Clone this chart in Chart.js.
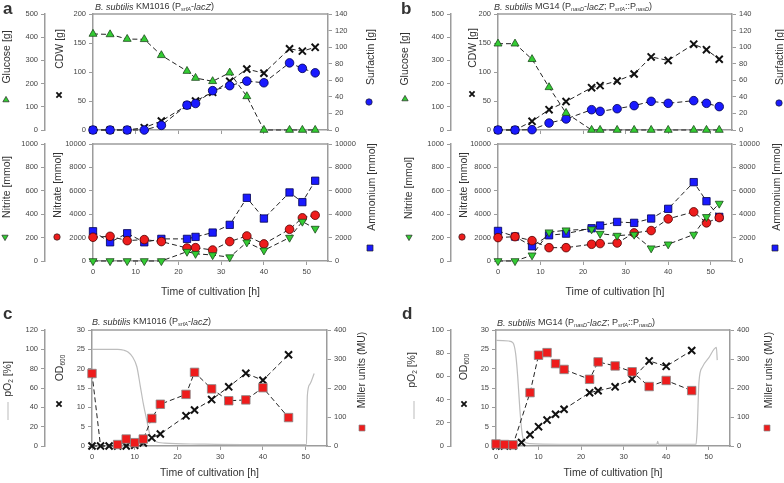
<!DOCTYPE html>
<html>
<head>
<meta charset="utf-8">
<script src="https://cdn.jsdelivr.net/npm/chart.js@4.4.1/dist/chart.umd.min.js"></script>
<style>
  html, body { margin: 0; padding: 0; background: #fff; }
  #fig { position: relative; width: 784px; height: 483px; overflow: hidden; }
  #fig canvas { position: absolute; }
</style>
</head>
<body>
<div id="fig">
  <canvas id="aTop" width="392" height="142" style="left:0;top:0"></canvas>
  <canvas id="aBot" width="392" height="170" style="left:0;top:130px"></canvas>
  <canvas id="bTop" width="392" height="142" style="left:392px;top:0"></canvas>
  <canvas id="bBot" width="392" height="170" style="left:392px;top:130px"></canvas>
  <canvas id="cPanel" width="392" height="183" style="left:0;top:300px"></canvas>
  <canvas id="dPanel" width="392" height="183" style="left:392px;top:300px"></canvas>
</div>
<script>
// ---- panels a / b : fermentation samples ----
const hoursAB = [0, 4, 8, 12, 16, 22, 24, 28, 32, 36, 40, 46, 49, 52];

const glucoseA   = [414, 412, 392, 391, 322, 254, 224, 210, 247, 145, 0, 0, 0, 0];
const cdwA       = [0, 0, 0, 4, 15.5, 42.5, 50, 65, 84, 105, 98, 140, 136, 142.5];
const surfactinA = [0, 0, 0, 0, 5.6, 30, 32, 47.5, 53.5, 59, 57, 81, 74.4, 69];
const nitriteA   = [0, 0, 0, 0, 0, 80, 62, 51, 33, 160, 91, 200, 337, 277];
const nitrateA   = [2030, 2110, 1740, 1830, 1660, 1110, 1140, 940, 1660, 2140, 1460, 2710, 3690, 3910];
const ammoniumA  = [2540, 1600, 2370, 1600, 1890, 1890, 2060, 2430, 3090, 5400, 3630, 5860, 5030, 6860];

const glucoseB   = [372, 372, 305, 184, 73, 0, 0, 0, 0, 0, 0, 0, 0, 0];
const cdwB       = [0, 0, 15, 35, 49, 73, 76.5, 84.5, 96.5, 126, 120, 148, 138.5, 122];
const surfactinB = [0, 0, 0.4, 8.4, 13.3, 24.5, 22.5, 25.7, 29.4, 34.6, 32.2, 35.4, 32.2, 28.2];
const nitriteB   = [0, 0, 49, 246, 263, 272, 234, 217, 226, 109, 143, 226, 377, 491];
const nitrateB   = [2000, 2080, 1740, 1140, 1140, 1430, 1490, 1540, 2400, 2600, 3600, 4200, 3260, 3710];
const ammoniumB  = [2570, 2090, 1260, 2200, 2340, 2800, 3030, 3340, 3260, 3630, 4460, 6740, 5110, 3770];

// ---- panels c / d : OD, Miller units, pO2 ----
const hoursCD = [0, 2, 4, 6, 8, 10, 12, 14, 16, 22, 24, 28, 32, 36, 40, 46];
const odC     = [0, 0, 0, 0, 0, 0.2, 0.8, 2.1, 3.1, 7.8, 9.3, 12, 15.3, 18.8, 17, 23.6];
const millerC = [250, 0, 0, 5, 24, 11.5, 24, 95, 144, 178, 254, 197, 156, 159, 201, 98];
const odD     = [0, 0, 0, 0.9, 2.9, 5, 6.7, 8.2, 9.5, 13.8, 14.3, 15.3, 17.3, 22, 20.6, 24.7];
const millerD = [7, 5, 4, null, 184, 313, 322, 284, 264, 230, 290, 276, 256, 205, 226, 191];

const pO2TimeC = [0, 6, 7.5, 8.5, 9.5, 10.5, 11.3, 12, 12.8, 13.6, 14.8, 17, 25, 35, 45, 50.2, 50.4, 51, 52];
const pO2C     = [100, 100, 99, 97, 92, 82, 62, 44, 27, 11, 5, 3, 2, 1.5, 1.5, 1.5, 52, 64, 75];
const pO2TimeD = [0, 3, 4, 4.6, 5.1, 5.6, 6.1, 6.6, 8, 15, 25, 37.8, 38, 38.2, 47, 47.3, 47.7, 48.5, 50, 51.8, 52];
const pO2D     = [91, 90.5, 89, 80, 60, 32, 12, 4, 2, 1.5, 1.5, 1.5, 4, 1.5, 1.5, 15, 55, 68, 76, 85, 74];

const FONT = "'Liberation Sans', Arial, sans-serif";
const GRAY = '#9c9c9c';
const TXT = '#333';
const TICK_FONT = { family: FONT, size: 7.5 };

Chart.defaults.font.family = FONT;
Chart.defaults.animation = false;
Chart.defaults.events = [];
Chart.defaults.plugins.legend.display = false;
Chart.defaults.plugins.tooltip.enabled = false;

// rich text: [text, kind] with kind containing i (italic), s (subscript), b (bold)
function fontStr(kind, size) {
  const it = kind.includes('i') ? 'italic ' : '';
  const b = kind.includes('b') ? 'bold ' : '';
  const sz = kind.includes('s') ? size * 0.62 : size;
  return it + b + sz + 'px ' + FONT;
}
function drawRich(ctx, parts, x, y, size, align) {
  let w = 0;
  for (const [t, k] of parts) { ctx.font = fontStr(k, size); w += ctx.measureText(t).width; }
  let cx = align === 'center' ? x - w / 2 : x;
  ctx.textAlign = 'left';
  ctx.textBaseline = 'middle';
  for (const [t, k] of parts) {
    ctx.font = fontStr(k, size);
    ctx.fillText(t, cx, k.includes('s') ? y + size * 0.32 : y);
    cx += ctx.measureText(t).width;
  }
}

// little key symbols next to the axis titles
function drawKey(ctx, kind, x, y) {
  ctx.save();
  ctx.lineWidth = 0.7;
  ctx.strokeStyle = '#222';
  ctx.beginPath();
  if (kind === 'tri' || kind === 'triDown') {
    const s = kind === 'tri' ? -1 : 1, r = 3.6;
    ctx.moveTo(x, y + s * r);
    ctx.lineTo(x - r * 0.87, y - s * r * 0.5);
    ctx.lineTo(x + r * 0.87, y - s * r * 0.5);
    ctx.closePath();
    ctx.fillStyle = '#33cc33'; ctx.fill(); ctx.stroke();
  } else if (kind === 'blueDot' || kind === 'redDot') {
    ctx.arc(x, y, 3.2, 0, Math.PI * 2);
    ctx.fillStyle = kind === 'blueDot' ? '#1a1aff' : '#ee1c1c'; ctx.fill(); ctx.stroke();
  } else if (kind === 'blueSq' || kind === 'redSq') {
    ctx.rect(x - 3, y - 3, 6, 6);
    ctx.fillStyle = kind === 'blueSq' ? '#1a1aff' : '#ee1c1c'; ctx.fill();
    if (kind === 'redSq') ctx.strokeStyle = '#888';
    ctx.stroke();
  } else if (kind === 'cross') {
    ctx.lineWidth = 1.8; ctx.strokeStyle = '#111';
    ctx.moveTo(x - 2.6, y - 2.6); ctx.lineTo(x + 2.6, y + 2.6);
    ctx.moveTo(x + 2.6, y - 2.6); ctx.lineTo(x - 2.6, y + 2.6);
    ctx.stroke();
  } else if (kind === 'vline') {
    ctx.lineWidth = 1; ctx.strokeStyle = '#bbb';
    ctx.moveTo(x, y - 9); ctx.lineTo(x, y + 9);
    ctx.stroke();
  }
  ctx.restore();
}

const decor = {
  id: 'decor',
  afterDraw(chart, args, opts) {
    const { ctx, chartArea: a } = chart;
    ctx.save();
    ctx.strokeStyle = GRAY; ctx.lineWidth = 1.5;
    ctx.beginPath(); ctx.moveTo(a.left, a.top); ctx.lineTo(a.right, a.top); ctx.stroke();
    for (const t of opts.texts || []) {
      ctx.fillStyle = t.color || TXT;
      if (t.rot) {
        ctx.save(); ctx.translate(t.x, t.y); ctx.rotate(-Math.PI / 2);
        drawRich(ctx, t.parts, 0, 0, t.size, 'center');
        ctx.restore();
      } else {
        drawRich(ctx, t.parts, t.x, t.y, t.size, t.align || 'left');
      }
    }
    for (const k of opts.keys || []) drawKey(ctx, k[0], k[1], k[2]);
    ctx.restore();
  }
};

function yAxis(pos, min, max, step, width, weight) {
  return {
    type: 'linear', position: pos, min, max, weight,
    ticks: { stepSize: step, font: TICK_FONT, color: '#444', padding: 3, callback: v => String(v) },
    grid: { drawOnChartArea: false, color: GRAY, tickLength: 4, lineWidth: 1 },
    border: { color: GRAY, width: 1.5 },
    afterFit: s => { s.width = width; }
  };
}
function xAxis(showLabels, height, titlePad) {
  return {
    type: 'linear', position: 'bottom', min: 0, max: 55,
    ticks: { stepSize: 10, includeBounds: false, display: showLabels, font: TICK_FONT, color: '#444', padding: 2,
             callback: v => String(v) },
    afterBuildTicks: s => { s.ticks = s.ticks.filter(t => t.value <= 50); },
    grid: { drawOnChartArea: false, color: GRAY, tickLength: 4, lineWidth: 1 },
    border: { color: GRAY, width: 1.5 },
    title: { display: showLabels, text: 'Time of cultivation [h]', color: TXT,
             font: { family: FONT, size: 10.5 }, padding: { top: 0, bottom: titlePad } },
    afterFit: s => { s.height = height; }
  };
}

const TRI      = { pointStyle: 'triangle', pointRadius: 4.6, pointBackgroundColor: '#33cc33', pointBorderColor: '#1d4a1d' };
const TRI_DOWN = Object.assign({}, TRI, { pointRotation: 180 });
const DOT_BLUE = { pointStyle: 'circle', pointRadius: 4.3, pointBackgroundColor: '#1a1aff', pointBorderColor: '#000050' };
const DOT_RED  = { pointStyle: 'circle', pointRadius: 4.3, pointBackgroundColor: '#ee1c1c', pointBorderColor: '#500000' };
const SQ_BLUE  = { pointStyle: 'rect', pointRadius: 5.2, pointBackgroundColor: '#1a1aff', pointBorderColor: '#000050' };
const SQ_RED   = { pointStyle: 'rect', pointRadius: 6, pointBackgroundColor: '#ee1c1c', pointBorderColor: '#888' };
const CROSS    = { pointStyle: 'crossRot', pointRadius: 5, pointBorderWidth: 2, pointBorderColor: '#111' };

function series(xs, ys, axis, style) {
  return Object.assign({
    data: xs.map((x, i) => ({ x, y: ys[i] })),
    yAxisID: axis, borderColor: '#222', borderWidth: 1, borderDash: [5, 3],
    pointBorderWidth: 0.8, clip: false, spanGaps: true
  }, style);
}
function pO2Line(xs, ys) {
  return {
    data: xs.map((x, i) => ({ x, y: ys[i] })),
    yAxisID: 'yP', borderColor: '#bdbdbd', borderWidth: 1.2, pointRadius: 0,
    cubicInterpolationMode: 'monotone', clip: false
  };
}

function makeChart(id, datasets, scales, padTop, decorOpts) {
  return new Chart(document.getElementById(id), {
    type: 'line',
    data: { datasets },
    options: {
      responsive: false,
      layout: { padding: { top: padTop, left: 0, right: 0, bottom: 0 } },
      scales,
      plugins: { decor: decorOpts }
    },
    plugins: [decor]
  });
}

const T = (parts, x, y, size, rot) => ({ parts, x, y, size, rot });
const titleA = [['B. subtilis', 'i'], [' KM1016 (P', 'n'], ['srfA', 'si'], ['-', 'n'], ['lacZ', 'i'], [')', 'n']];
const titleB = [['B. subtilis', 'i'], [' MG14 (P', 'n'], ['nasD', 'si'], ['-', 'n'], ['lacZ', 'i'], ['; P', 'n'],
                ['srfA', 'si'], ['::P', 'n'], ['nasD', 'si'], [')', 'n']];

// ---- a ----
makeChart('aTop', [
  series(hoursAB, glucoseA, 'yG', TRI),
  series(hoursAB, surfactinA, 'yS', DOT_BLUE),
  series(hoursAB, cdwA, 'yC', CROSS)
], {
  x: xAxis(false, 12, 0),
  yG: yAxis('left', 0, 500, 100, 45, 2),
  yC: yAxis('left', 0, 200, 50, 48, 1),
  yS: yAxis('right', 0, 140, 20, 64, 1)
}, 14, {
  texts: [
    T([['a', 'b']], 3, 9, 17),
    T(titleA, 95, 7, 9),
    T([['Glucose [g]', 'n']], 7, 57, 10.5, true),
    T([['CDW [g]', 'n']], 60, 49, 10.5, true),
    T([['Surfactin [g]', 'n']], 371, 57, 10.5, true)
  ],
  keys: [['tri', 6, 100], ['cross', 59, 95], ['blueDot', 369, 102]]
});

makeChart('aBot', [
  series(hoursAB, nitriteA, 'yN', TRI_DOWN),
  series(hoursAB, nitrateA, 'yR', DOT_RED),
  series(hoursAB, ammoniumA, 'yA', SQ_BLUE)
], {
  x: xAxis(true, 39, 2),
  yN: yAxis('left', 0, 1000, 200, 45, 2),
  yR: yAxis('left', 0, 10000, 2000, 48, 1),
  yA: yAxis('right', 0, 10000, 2000, 64, 1)
}, 14, {
  texts: [
    T([['Nitrite [mmol]', 'n']], 7, 57, 10.5, true),
    T([['Nitrate [mmol]', 'n']], 58, 55, 10.5, true),
    T([['Ammonium [mmol]', 'n']], 372, 57, 10.5, true)
  ],
  keys: [['triDown', 5, 107], ['redDot', 57, 107], ['blueSq', 370, 118]]
});

// ---- b ----
makeChart('bTop', [
  series(hoursAB, glucoseB, 'yG', TRI),
  series(hoursAB, surfactinB, 'yS', DOT_BLUE),
  series(hoursAB, cdwB, 'yC', CROSS)
], {
  x: xAxis(false, 12, 0),
  yG: yAxis('left', 0, 500, 100, 59, 2),
  yC: yAxis('left', 0, 200, 50, 47, 1),
  yS: yAxis('right', 0, 140, 20, 52, 1)
}, 14, {
  texts: [
    T([['b', 'b']], 9, 9, 17),
    T(titleB, 102, 7, 9),
    T([['Glucose [g]', 'n']], 13, 59, 10.5, true),
    T([['CDW [g]', 'n']], 81, 48, 10.5, true),
    T([['Surfactin [g]', 'n']], 388, 57, 10.5, true)
  ],
  keys: [['tri', 13, 99], ['cross', 80, 94], ['blueDot', 387, 103]]
});

makeChart('bBot', [
  series(hoursAB, nitriteB, 'yN', TRI_DOWN),
  series(hoursAB, nitrateB, 'yR', DOT_RED),
  series(hoursAB, ammoniumB, 'yA', SQ_BLUE)
], {
  x: xAxis(true, 39, 2),
  yN: yAxis('left', 0, 1000, 200, 59, 2),
  yR: yAxis('left', 0, 10000, 2000, 47, 1),
  yA: yAxis('right', 0, 10000, 2000, 52, 1)
}, 14, {
  texts: [
    T([['Nitrite [mmol]', 'n']], 17, 58, 10.5, true),
    T([['Nitrate [mmol]', 'n']], 72, 55, 10.5, true),
    T([['Ammonium [mmol]', 'n']], 385, 57, 10.5, true)
  ],
  keys: [['triDown', 17, 107], ['redDot', 70, 107], ['blueSq', 383, 118]]
});

// ---- c ----
const hideZero = ctx => (ctx.raw && ctx.raw.y === 0 ? 0 : 6);
makeChart('cPanel', [
  series(hoursCD, millerC, 'yM', Object.assign({}, SQ_RED, { pointRadius: hideZero })),
  series(hoursCD, odC, 'yO', CROSS),
  pO2Line(pO2TimeC, pO2C)
], {
  x: xAxis(true, 37, 4),
  yP: yAxis('left', 0, 120, 20, 45, 2),
  yO: yAxis('left', 0, 30, 5, 47, 1),
  yM: yAxis('right', 0, 400, 100, 65, 1)
}, 30, {
  texts: [
    T([['c', 'b']], 3, 14, 17),
    T(titleA, 92, 22, 9),
    T([['pO', 'n'], ['2', 's'], [' [%]', 'n']], 8, 79, 10.5, true),
    T([['OD', 'n'], ['600', 's']], 60, 68, 10.5, true),
    T([['Miller units (MU)', 'n']], 362, 70, 10.5, true)
  ],
  keys: [['vline', 8, 111], ['cross', 59, 104], ['redSq', 362, 128]]
});

// ---- d ----
makeChart('dPanel', [
  series(hoursCD, millerD, 'yM', SQ_RED),
  series(hoursCD, odD, 'yO', CROSS),
  pO2Line(pO2TimeD, pO2D)
], {
  x: xAxis(true, 37, 4),
  yP: yAxis('left', 0, 100, 20, 59, 2),
  yO: yAxis('left', 0, 30, 5, 45, 1),
  yM: yAxis('right', 0, 400, 100, 54, 1)
}, 30, {
  texts: [
    T([['d', 'b']], 10, 14, 17),
    T(titleB, 105, 23, 9),
    T([['pO', 'n'], ['2', 's'], [' [%]', 'n']], 20, 70, 10.5, true),
    T([['OD', 'n'], ['600', 's']], 72, 67, 10.5, true),
    T([['Miller units (MU)', 'n']], 377, 70, 10.5, true)
  ],
  keys: [['vline', 22, 110], ['cross', 72, 104], ['redSq', 375, 128]]
});
</script>
</body>
</html>
